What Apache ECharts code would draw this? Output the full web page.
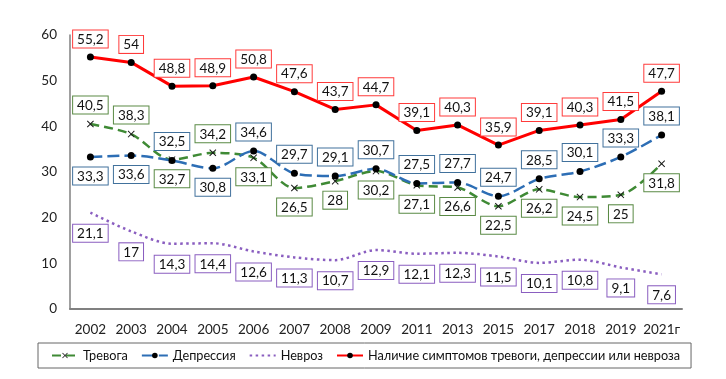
<!DOCTYPE html>
<html><head><meta charset="utf-8">
<script src="https://cdn.jsdelivr.net/npm/echarts@6/dist/echarts.min.js"></script>
<style>html,body{margin:0;padding:0;background:#fff}#c{width:726px;height:379px}</style>
</head><body><div id="c"></div>
<script>
const years = ['2002','2003','2004','2005','2006','2007','2008','2009','2011','2013','2015','2017','2018','2019','2021г'];
const anySymptoms = [55.2,54,48.8,48.9,50.8,47.6,43.7,44.7,39.1,40.3,35.9,39.1,40.3,41.5,47.7];
const depression = [33.3,33.6,32.5,30.8,34.6,29.7,29.1,30.7,27.5,27.7,24.7,28.5,30.1,33.3,38.1];
const anxiety = [40.5,38.3,32.7,34.2,33.1,26.5,28,30.2,27.1,26.6,22.5,26.2,24.5,25,31.8];
const neurosis = [21.1,17,14.3,14.4,12.6,11.3,10.7,12.9,12.1,12.3,11.5,10.1,10.8,9.1,7.6];
const depressionLabelPos = ['bottom','bottom','top','bottom','top','top','top','top','top','top','top','top','top','top','top'];
const anxietyLabelPos = ['top','top','bottom','top','bottom','bottom','bottom','bottom','bottom','bottom','bottom','bottom','bottom','bottom','bottom'];
const seriesNames = ['Тревога','Депрессия','Невроз','Наличие симптомов тревоги, депрессии или невроза'];

const FONT = 'Lato';
function lbl(border){
  return {show:true, color:'#111', fontFamily:FONT, fontSize:13.5, backgroundColor:'#fff',
    borderColor:border, borderWidth:1, padding:[2,4,1,4], distance:7,
    formatter:p=>String(p.value).replace('.',',')};
}
function withPos(vals,pos){return vals.map((v,i)=>({value:v,label:{position:pos[i]}}));}
const xPath='path://M0,1 L1,0 L5,4 L9,0 L10,1 L6,5 L10,9 L9,10 L5,6 L1,10 L0,9 L4,5 Z';

const chart = echarts.init(document.getElementById('c'));
chart.setOption({
  animation:false,
  grid:{left:70,right:44,top:35,bottom:70},
  legend:{
    left:38, top:343, itemGap:13, itemWidth:26, itemHeight:7,
    borderColor:'#666', borderWidth:1, padding:[6,11,6,13],
    textStyle:{fontFamily:FONT,fontSize:12.7,color:'#111'},
    data:[seriesNames[0],seriesNames[1],{name:seriesNames[2],itemStyle:{opacity:0}},seriesNames[3]]
  },
  xAxis:{type:'category',data:years,boundaryGap:true,
    axisLine:{lineStyle:{color:'#808080',width:2}},axisTick:{show:false},
    axisLabel:{interval:0,fontFamily:FONT,fontSize:13.5,color:'#222',margin:14}},
  yAxis:{type:'value',min:0,max:60,interval:10,
    axisLine:{show:true,lineStyle:{color:'#808080',width:1.5}},axisTick:{show:false},
    splitLine:{show:false},
    axisLabel:{fontFamily:FONT,fontSize:13.5,color:'#222',margin:13}},
  series:[
    {name:seriesNames[0],type:'line',smooth:0.3,data:withPos(anxiety,anxietyLabelPos),
      symbol:xPath,symbolSize:7,itemStyle:{color:'#1a1a1a'},
      lineStyle:{color:'#3F8A35',width:2.5,type:[9,5]},
      label:lbl('#5A8A45'),z:3},
    {name:seriesNames[1],type:'line',smooth:0.3,data:withPos(depression,depressionLabelPos),
      symbol:'circle',symbolSize:7,itemStyle:{color:'#000'},
      lineStyle:{color:'#2D6EB5',width:2.5,type:[12,5]},
      label:lbl('#41719C'),z:4},
    {name:seriesNames[2],type:'line',smooth:0.3,data:neurosis,
      symbol:'circle',symbolSize:0,itemStyle:{color:'#8A5EC0'},
      lineStyle:{color:'#8A5EC0',width:2.5,type:[2.5,3.5]},
      label:Object.assign(lbl('#8A5EC0'),{position:'bottom',distance:12}),z:2},
    {name:seriesNames[3],type:'line',data:anySymptoms,
      symbol:'circle',symbolSize:7,itemStyle:{color:'#000'},
      lineStyle:{color:'#FF0000',width:3},
      label:Object.assign(lbl('#FF3B3B'),{position:'top',distance:6}),z:5}
  ]
});
</script></body></html>
